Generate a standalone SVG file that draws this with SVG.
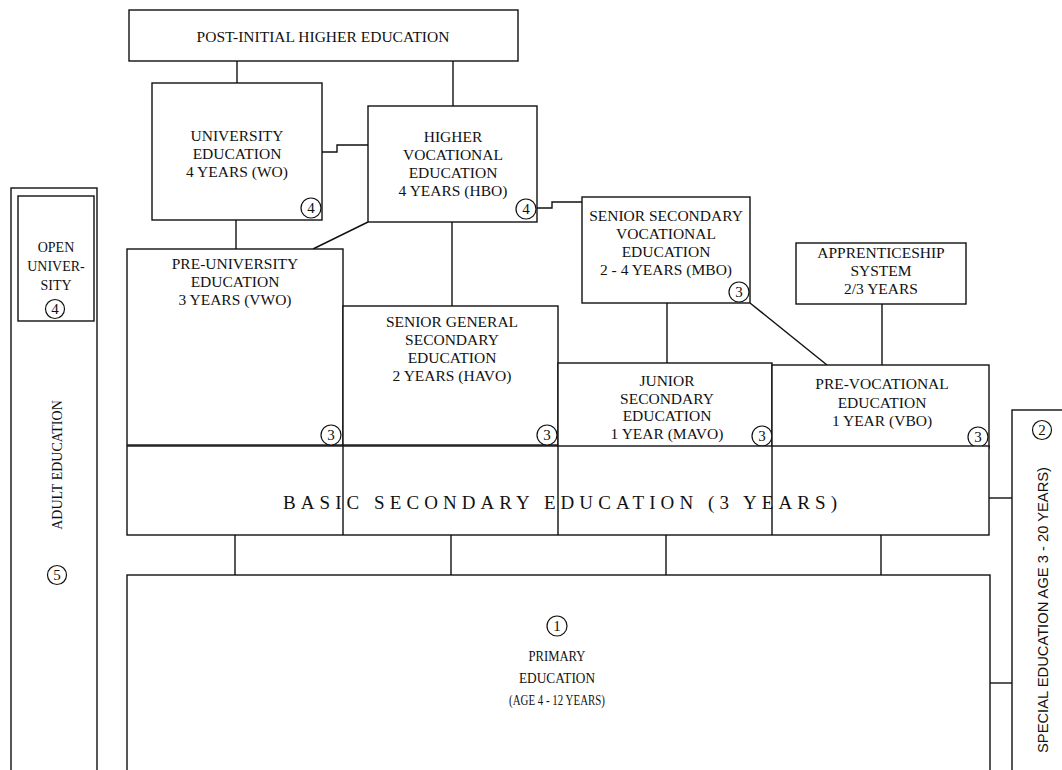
<svg xmlns="http://www.w3.org/2000/svg" width="1062" height="770" viewBox="0 0 1062 770">
<style>
.box{fill:#fff;stroke:#111;stroke-width:1.4}
.ln{fill:none;stroke:#111;stroke-width:1.4}
.t{font-family:"Liberation Serif","Times New Roman",serif;font-size:15.5px;fill:#111;text-anchor:middle}
.s{font-family:"Liberation Serif","Times New Roman",serif;font-size:14px;fill:#111;text-anchor:middle}
.c{fill:#fff;stroke:#111;stroke-width:1.2}
.n{font-family:"Liberation Serif","Times New Roman",serif;font-size:15px;fill:#111;text-anchor:middle}
</style>
<rect width="1062" height="770" fill="#fff"/>
<defs>
<g id="b3"><circle class="c" r="10"/><text class="n" y="5">3</text></g>
<g id="b4"><circle class="c" r="10"/><text class="n" y="5">4</text></g>
</defs>

<g id="connectors">
<path class="ln" d="M237,61 V83"/>
<path class="ln" d="M453,61 V106"/>
<path class="ln" d="M236,220 V249"/>
<path class="ln" d="M322,152 H337 V145 H368"/>
<path class="ln" d="M368,222 L313,249"/>
<path class="ln" d="M452,222 V306"/>
<path class="ln" d="M537,208 H552 V202 H582"/>
<path class="ln" d="M667,303 V363"/>
<path class="ln" d="M750,303 L827,365"/>
<path class="ln" d="M882,304 V365"/>
<path class="ln" d="M235,535 V575"/>
<path class="ln" d="M451,535 V575"/>
<path class="ln" d="M666,535 V575"/>
<path class="ln" d="M881,535 V575"/>
<path class="ln" d="M989,498 H1012"/>
<path class="ln" d="M990,683 H1012"/>
</g>

<g id="adult">
<rect class="box" x="11" y="188" width="86" height="600"/>
<text class="s" transform="translate(62,465) rotate(-90)">ADULT EDUCATION</text>
<circle class="c" cx="57" cy="575" r="9.5"/><text class="n" x="57" y="580">5</text>
</g>
<g id="open-university">
<rect class="box" x="18" y="196" width="76" height="125"/>
<text class="s" x="56" y="252">OPEN</text>
<text class="s" x="56" y="271">UNIVER-</text>
<text class="s" x="56" y="290">SITY</text>
<circle class="c" cx="55" cy="309" r="9.5"/><text class="n" x="55" y="314">4</text>
</g>

<g id="post-initial">
<rect class="box" x="129" y="10" width="389" height="51"/>
<text class="t" x="323" y="42">POST-INITIAL HIGHER EDUCATION</text>
</g>

<g id="university">
<rect class="box" x="152" y="83" width="170" height="137"/>
<text class="t" x="237" y="141">UNIVERSITY</text>
<text class="t" x="237" y="159">EDUCATION</text>
<text class="t" x="237" y="177">4 YEARS (WO)</text>
<use href="#b4" x="311" y="208"/>
</g>

<g id="hbo">
<rect class="box" x="368" y="106" width="169" height="116"/>
<text class="t" x="453" y="142">HIGHER</text>
<text class="t" x="453" y="160">VOCATIONAL</text>
<text class="t" x="453" y="178">EDUCATION</text>
<text class="t" x="453" y="196">4 YEARS (HBO)</text>
<use href="#b4" x="526" y="209"/>
</g>

<g id="mbo">
<rect class="box" x="582" y="197" width="168" height="106"/>
<text class="t" x="666" y="221">SENIOR SECONDARY</text>
<text class="t" x="666" y="239">VOCATIONAL</text>
<text class="t" x="666" y="257">EDUCATION</text>
<text class="t" x="666" y="275">2 - 4 YEARS (MBO)</text>
<use href="#b3" x="739" y="292"/>
</g>

<g id="apprenticeship">
<rect class="box" x="796" y="243" width="170" height="61"/>
<text class="t" x="881" y="258">APPRENTICESHIP</text>
<text class="t" x="881" y="276">SYSTEM</text>
<text class="t" x="881" y="294">2/3 YEARS</text>
</g>

<g id="vwo">
<rect class="box" x="127" y="249" width="216" height="196"/>
<text class="t" x="235" y="269">PRE-UNIVERSITY</text>
<text class="t" x="235" y="287">EDUCATION</text>
<text class="t" x="235" y="305">3 YEARS (VWO)</text>
<use href="#b3" x="331" y="435"/>
</g>

<g id="havo">
<rect class="box" x="343" y="306" width="215" height="139"/>
<text class="t" x="452" y="327">SENIOR GENERAL</text>
<text class="t" x="452" y="345">SECONDARY</text>
<text class="t" x="452" y="363">EDUCATION</text>
<text class="t" x="452" y="381">2 YEARS (HAVO)</text>
<use href="#b3" x="547" y="435"/>
</g>

<g id="mavo">
<rect class="box" x="558" y="363" width="214" height="84"/>
<text class="t" x="667" y="386">JUNIOR</text>
<text class="t" x="667" y="404">SECONDARY</text>
<text class="t" x="667" y="421">EDUCATION</text>
<text class="t" x="667" y="439">1 YEAR (MAVO)</text>
<use href="#b3" x="762" y="436"/>
</g>

<g id="vbo">
<rect class="box" x="772" y="365" width="217" height="83"/>
<text class="t" x="882" y="389">PRE-VOCATIONAL</text>
<text class="t" x="882" y="408">EDUCATION</text>
<text class="t" x="882" y="426">1 YEAR (VBO)</text>
<use href="#b3" x="978" y="437"/>
</g>

<g id="basic-secondary">
<rect class="box" x="127" y="446" width="862" height="89"/>
<path class="ln" d="M343,446 V535 M558,446 V535 M772,446 V535"/>
<text class="t" x="560" y="509" style="font-size:19px" textLength="554" lengthAdjust="spacing">BASIC SECONDARY EDUCATION (3 YEARS)</text>
</g>

<g id="primary">
<rect class="box" x="127" y="575" width="863" height="220"/>
<circle class="c" cx="557" cy="626" r="10"/><text class="n" x="557" y="631">1</text>
<text class="t" x="557" y="661" style="font-size:15px" textLength="57" lengthAdjust="spacingAndGlyphs">PRIMARY</text>
<text class="t" x="557" y="683" style="font-size:15px" textLength="76" lengthAdjust="spacingAndGlyphs">EDUCATION</text>
<text class="t" x="557" y="705" style="font-size:15px" textLength="96" lengthAdjust="spacingAndGlyphs">(AGE 4 - 12 YEARS)</text>
</g>

<g id="special">
<rect class="box" x="1012" y="410" width="70" height="380"/>
<circle class="c" cx="1042" cy="430" r="9.5"/><text class="n" x="1042" y="435">2</text>
<text transform="translate(1048,610) rotate(-90)" style="font-family:'Liberation Sans',Arial,sans-serif;font-size:14px;fill:#111;text-anchor:middle" textLength="286" lengthAdjust="spacingAndGlyphs">SPECIAL EDUCATION AGE 3 - 20 YEARS)</text>
</g>
</svg>
